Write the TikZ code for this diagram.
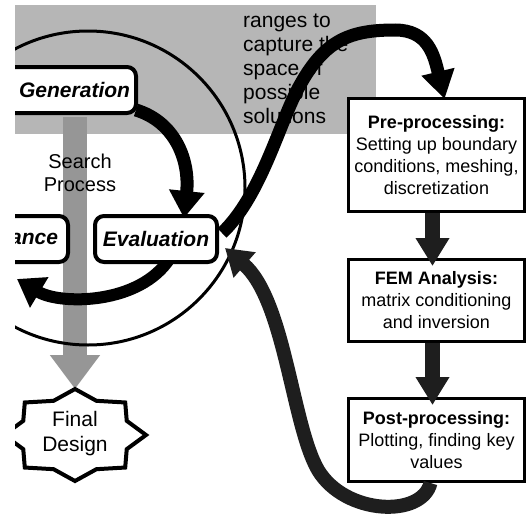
\documentclass[tikz,border=0pt]{standalone}
\usepackage{fontspec}
\setmainfont{Liberation Sans}
\usetikzlibrary{arrows.meta,calc}
\definecolor{speck}{RGB}{182,182,182}
\definecolor{speckd}{RGB}{150,150,150}
\definecolor{darkarrow}{RGB}{30,30,30}
\begin{document}
\begin{tikzpicture}[x=1pt,y=-1pt,
  rbox/.style={draw, line width=4pt, rounded corners=9pt, fill=white,
    font=\fontsize{21}{25}\selectfont\bfseries\itshape, inner ysep=0pt, minimum height=46pt},
  sbox/.style={draw, line width=3pt, fill=white, align=center,
    font=\fontsize{18}{22}\selectfont, inner sep=0pt, minimum width=176pt},
  plain/.style={font=\fontsize{20}{23}\selectfont, align=center, inner sep=0pt},
  bigarrow/.style={line width=13pt, -{Triangle[width=34pt,length=27pt]}},
]
\useasboundingbox (0,0) rectangle (527,514);
\clip (15,5) rectangle (527,514);

% search space background
\fill[speck] (15,5) rectangle (376,134);
\node[font=\fontsize{21}{24}\selectfont, align=left, anchor=north west, inner sep=0pt] (ranges) at (243,14)
  {ranges to\\capture the\\space of\\possible\\solutions};

% search process arrow
\coordinate (fdtop) at (75,389);
\draw[speckd, line width=24pt, -{Triangle[width=48pt,length=34pt]}] (75,117) -- (fdtop);

% search circle
\draw[line width=3pt] (88,188) circle[radius=157pt];

% boxes on the left
\node[rbox, minimum width=176pt, text width=164pt, inner xsep=6pt, align=right] (gen) at (48,90) {Generation};
\node[rbox, minimum width=108pt, text width=88pt, inner xsep=10pt, align=right] (ance) at (14,239) {ance};

% evaluation -> performance (drawn under the evaluation box)
\coordinate (evalc) at (156,239);
\draw[line width=12pt, -{Triangle[width=34pt,length=26pt]}]
  ($(evalc)+(14,19)$) .. controls (140,305) and (60,305) .. ($(ance.south)+(3,15)$);
\node[rbox, minimum width=122pt, inner xsep=0pt] (eval) at (evalc) {Evaluation};

\node[sbox, minimum height=113pt] (pre) at (436.5,155)
  {\textbf{Pre-processing:}\\Setting up boundary\\conditions, meshing,\\discretization};
\node[sbox, minimum height=82pt] (fem) at (436.5,300.5)
  {\textbf{FEM Analysis:}\\matrix conditioning\\and inversion};
\node[sbox, minimum height=83pt] (post) at (436.5,440)
  {\textbf{Post-processing:}\\Plotting, finding key\\values};

% final design star
\draw[line width=4pt, fill=white, line join=miter]
  plot[samples at={0,...,15}, variable=\k]
  ({75+ifthenelse(mod(\k,2)==0,71,56)*cos(90-22.5*\k)},
   {435-ifthenelse(mod(\k,2)==0,46,37)*sin(90-22.5*\k)}) -- cycle;
\node[font=\fontsize{21}{25}\selectfont, align=center, inner sep=0pt] (final) at (75,434) {Final\\Design};

\node[plain] (search) at (80,173) {Search\\Process};

% connectors
\draw[bigarrow] ($(gen.east)+(-2,20)$) .. controls (175,122) and (190,160) .. ($(eval.north)+(28,4)$);
\draw[line width=13pt, -{Triangle[width=32pt,length=28pt]}]
  ($(eval.east)+(3,-6)$) .. controls (262,195) and (280,120) .. (300,85)
  .. controls (325,40) and (350,30) .. (395,30)
  .. controls (428,30) and (434,55) .. ($(pre.north)+(8,2)$);
\draw[darkarrow, line width=15pt, -{Triangle[width=32pt,length=28pt]}]
  ($(pre.south)+(-4,0)$) -- ($(fem.north)+(-4,8)$);
\draw[darkarrow, line width=15pt, -{Triangle[width=32pt,length=28pt]}]
  ($(fem.south)+(-4,0)$) -- ($(post.north)+(-4,8)$);
\draw[darkarrow, line width=14pt, -{Triangle[width=32pt,length=26pt]}]
  ($(post.south)+(-6,0)$) .. controls (422,518) and (345,515) .. (318,470)
  .. controls (292,425) and (285,300) .. ($(eval.east)+(6,9)$);
\end{tikzpicture}
\end{document}
